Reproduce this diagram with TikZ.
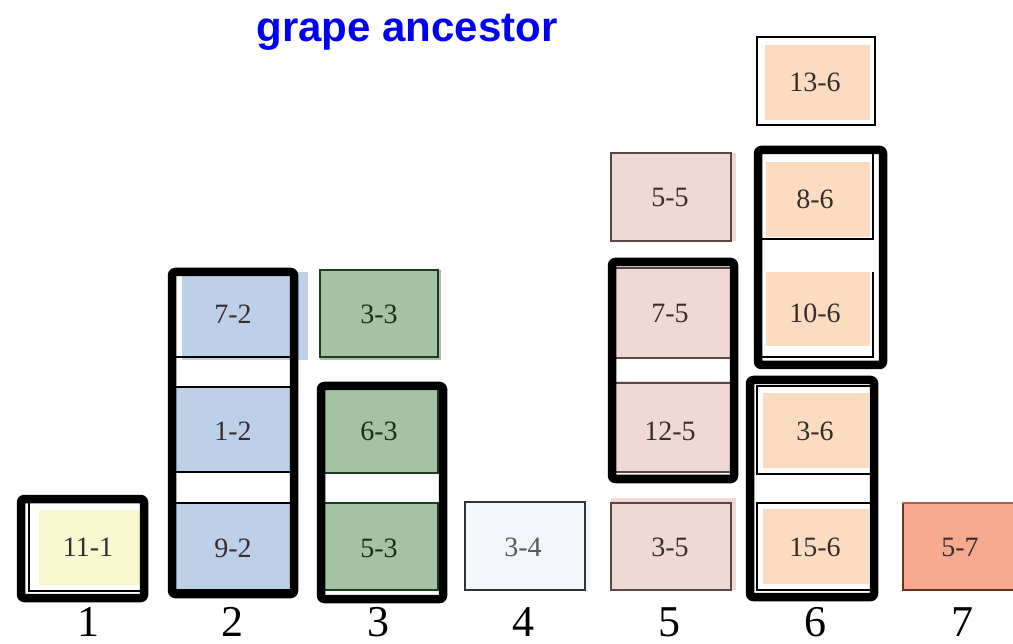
\documentclass[tikz,border=0pt]{standalone}
\usepackage{fontspec}
\setmainfont{Liberation Serif}
\newfontfamily\titlefont{Liberation Sans}
\definecolor{yellowfill}{RGB}{250,248,208}
\definecolor{bluefill}{RGB}{188,208,232}
\definecolor{greenfill}{RGB}{162,196,162}
\definecolor{greenline}{RGB}{30,60,30}
\definecolor{pinkfill}{RGB}{240,216,212}
\definecolor{pinkline}{RGB}{90,70,68}
\definecolor{peachfill}{RGB}{252,220,192}
\definecolor{salmonfill}{RGB}{248,170,144}
\definecolor{salmonline}{RGB}{110,50,35}
\definecolor{lightfill}{RGB}{243,246,250}
\definecolor{boxtext}{RGB}{55,45,45}
\definecolor{titleblue}{RGB}{0,0,245}
\begin{document}
\begin{tikzpicture}[x=1pt,y=-1pt,
  lbl/.style={inner sep=0pt,outer sep=0pt,text=boxtext,font=\fontsize{28}{30}\selectfont},
  collbl/.style={inner sep=0pt,outer sep=0pt,text=black,anchor=base,font=\fontsize{44}{46}\selectfont},
  thinline/.style={draw=black,line width=1.6pt},
  frame/.style={draw=black,line width=8.5pt,rounded corners=3pt,line join=round}]
\useasboundingbox (0,0) rectangle (1013,644);
% title
\node[inner sep=0pt,text=titleblue,font=\titlefont\bfseries\fontsize{42}{44}\selectfont,anchor=base] (title) at (407,42) {grape ancestor};
% ---------- column 1
\fill[yellowfill] (39,510) rectangle (140,585);
\draw[thinline] (29,502) rectangle (142,591);
\node[lbl] (b11-1) at (88,547) {11-1};
\draw[frame] (21,499) rectangle (144,598);
% ---------- column 2
\fill[bluefill] (182,272) rectangle (308,360);
\draw[thinline] (175,357) -- (292,357);
\node[lbl] (b7-2) at (233,314) {7-2};
\fill[bluefill] (175,387) rectangle (292,472);
\draw[thinline] (175,387) rectangle (292,472);
\node[lbl] (b1-2) at (233,431) {1-2};
\fill[bluefill] (175,503) rectangle (292,590);
\draw[thinline] (175,503) rectangle (292,590);
\node[lbl] (b9-2) at (233,548) {9-2};
\draw[frame] (172,272) rectangle (294,594);
% ---------- column 3
\fill[greenfill] (320,270) rectangle (441,360);
\draw[draw=greenline,line width=1.6pt] (320,270) rectangle (438,357);
\node[lbl,text=greenline!80!black] (b3-3) at (379,314) {3-3};
\fill[greenfill] (323,388) rectangle (438,473);
\draw[draw=greenline,line width=1.6pt] (323,388) rectangle (438,473);
\node[lbl,text=greenline!80!black] (b6-3) at (379,431) {6-3};
\fill[greenfill] (323,503) rectangle (438,590);
\draw[draw=greenline,line width=1.6pt] (323,503) rectangle (438,590);
\node[lbl,text=greenline!80!black] (b5-3) at (379,548) {5-3};
\draw[frame] (321,386) rectangle (443,599);
% ---------- column 4
\fill[lightfill] (465,502) rectangle (590,590);
\draw[draw=black!80,line width=1.6pt] (465,502) rectangle (585,590);
\node[lbl,text=black!65] (b3-4) at (523,547) {3-4};
% ---------- column 5
\fill[pinkfill] (611,153) rectangle (736,241);
\draw[draw=pinkline,line width=1.6pt] (611,153) rectangle (731,241);
\node[lbl] (b5-5) at (670,197) {5-5};
\fill[pinkfill] (612,266) rectangle (736,358);
\draw[draw=pinkline,line width=1.6pt] (612,268) rectangle (731,358);
\node[lbl] (b7-5) at (670,313) {7-5};
\fill[pinkfill] (612,381) rectangle (736,472);
\draw[draw=pinkline,line width=1.6pt] (612,383) rectangle (731,472);
\node[lbl] (b12-5) at (670,431) {12-5};
\draw[frame] (612,262) rectangle (734,479);
\fill[pinkfill] (611,498) rectangle (736,590);
\draw[draw=pinkline,line width=1.6pt] (611,503) rectangle (731,590);
\node[lbl] (b3-5) at (670,547) {3-5};
% ---------- column 6
\fill[peachfill] (765,45) rectangle (870,120);
\draw[draw=black,line width=2.2pt] (757,37) rectangle (875,125);
\node[lbl] (b13-6) at (815,82) {13-6};
\fill[peachfill] (766,162) rectangle (870,237);
\draw[thinline] (873,150) -- (873,239) -- (758,239);
\node[lbl] (b8-6) at (815,199) {8-6};
\fill[peachfill] (766,272) rectangle (870,346);
\draw[thinline] (873,272) -- (873,357) -- (758,357);
\node[lbl] (b10-6) at (815,313) {10-6};
\draw[frame] (758,150) rectangle (883,365);
\fill[peachfill] (763,393) rectangle (869,468);
\draw[thinline] (757,386) rectangle (872,474);
\node[lbl] (b3-6) at (815,431) {3-6};
\fill[peachfill] (763,509) rectangle (869,584);
\draw[thinline] (757,503) rectangle (872,590);
\node[lbl] (b15-6) at (815,547) {15-6};
\draw[frame] (750,380) rectangle (874,597);
% ---------- column 7
\fill[salmonfill] (902,502) rectangle (1013,590);
\draw[draw=salmonline,line width=1.6pt] (903,503) -- (903,590) -- (1013,590);
\draw[draw=salmonline!60!salmonfill,line width=1.6pt] (903,503) -- (1013,503);
\node[lbl] (b5-7) at (960,547) {5-7};
% ---------- column numbers
\node[collbl] (c1) at (88,636) {1};
\node[collbl] (c2) at (232,636) {2};
\node[collbl] (c3) at (378,636) {3};
\node[collbl] (c4) at (523,636) {4};
\node[collbl] (c5) at (669,636) {5};
\node[collbl] (c6) at (815,636) {6};
\node[collbl] (c7) at (962,636) {7};
\end{tikzpicture}
\end{document}
